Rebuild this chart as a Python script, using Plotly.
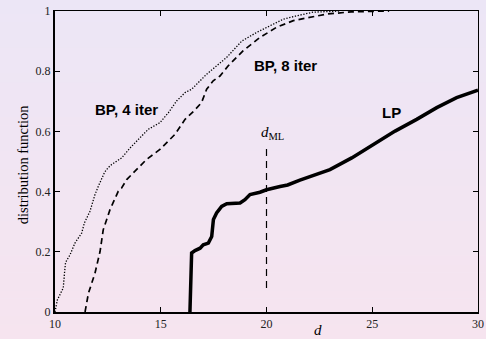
import plotly.graph_objects as go

# ---- data ----
bp4_x = [10.0, 10.05, 10.11, 10.25, 10.39, 10.45, 10.5, 10.71, 10.95, 11.26, 11.39, 11.65, 11.89,
         12.05, 12.2, 12.35, 12.52, 12.68, 13.15, 13.55, 14.02, 14.41, 14.96, 15.36, 15.75, 16.15,
         16.46, 17.17, 18.12, 18.83, 19.54, 20.0, 20.8, 21.43, 22.2, 23.5]
bp4_y = [0.0, 0.02, 0.04, 0.06, 0.08, 0.13, 0.165, 0.19, 0.23, 0.262, 0.296, 0.334, 0.39,
         0.418, 0.44, 0.465, 0.48, 0.49, 0.512, 0.545, 0.579, 0.607, 0.629, 0.662, 0.701, 0.729,
         0.74, 0.79, 0.846, 0.9, 0.929, 0.946, 0.973, 0.984, 0.996, 1.0]

bp8_x = [11.42, 11.5, 11.58, 11.89, 12.13, 12.28, 12.6, 12.99, 13.15, 13.39, 13.7, 14.33, 14.96,
         15.67, 16.15, 16.6, 16.93, 17.17, 17.48, 17.8, 18.19, 18.5, 18.9, 19.69, 20.48, 21.27,
         22.06, 22.85, 24.0, 25.8]
bp8_y = [0.0, 0.03, 0.062, 0.129, 0.201, 0.273, 0.34, 0.401, 0.412, 0.44, 0.462, 0.507, 0.54,
         0.59, 0.64, 0.67, 0.696, 0.74, 0.768, 0.784, 0.818, 0.84, 0.868, 0.912, 0.946, 0.968,
         0.979, 0.99, 0.997, 1.0]

lp_x = [16.38, 16.4, 16.44, 16.46, 16.62, 16.86, 17.01, 17.25, 17.41, 17.49, 17.64, 17.88, 18.12,
        18.75, 18.98, 19.22, 19.69, 20.0, 20.64, 21.0, 21.58, 22.0, 23.0, 24.03, 25.05, 26.08,
        27.1, 28.05, 28.99, 30.0]
lp_y = [0.0, 0.1, 0.18, 0.196, 0.204, 0.212, 0.223, 0.229, 0.251, 0.307, 0.329, 0.351, 0.36,
        0.362, 0.373, 0.39, 0.398, 0.406, 0.417, 0.422, 0.438, 0.448, 0.473, 0.512, 0.557, 0.601,
        0.64, 0.679, 0.712, 0.737]

dml_x = [20.0, 20.0]
dml_y = [0.08, 0.55]

x_ticks = [10, 15, 20, 25, 30]
y_ticks = [0, 0.2, 0.4, 0.6, 0.8, 1]
y_tick_text = ["0", "0.2", "0.4", "0.6", "0.8", "1"]

labels = [("BP, 4 iter", 13.36, 0.673), ("BP, 8 iter", 20.92, 0.818), ("LP", 25.92, 0.662)]

# ---- figure ----
fig = go.Figure()
fig.add_trace(go.Scatter(x=bp4_x, y=bp4_y, mode="lines",
                         line=dict(color="black", width=1.3, dash="1.3px,1.6px")))
fig.add_trace(go.Scatter(x=bp8_x, y=bp8_y, mode="lines",
                         line=dict(color="black", width=1.7, dash="6px,4px")))
fig.add_trace(go.Scatter(x=lp_x, y=lp_y, mode="lines",
                         line=dict(color="black", width=3.5)))
fig.add_trace(go.Scatter(x=dml_x, y=dml_y, mode="lines",
                         line=dict(color="black", width=1.2, dash="7px,5px")))

# gradient background built from horizontal bands
top = (236, 230, 246)
bot = (246, 228, 239)
n = 40
y0p, y1p = -0.1, 1.05
for i in range(n):
    t = i / (n - 1)
    c = tuple(round(bot[k] + (top[k] - bot[k]) * t) for k in range(3))
    ya = y0p + (y1p - y0p) * i / n
    yb = y0p + (y1p - y0p) * (i + 1) / n + 0.002
    fig.add_shape(type="rect", xref="paper", yref="paper", x0=-0.2, x1=1.1, y0=ya, y1=yb,
                  fillcolor="rgb(%d,%d,%d)" % c, line=dict(width=0), layer="below")

for txt, xx, yy in labels:
    fig.add_annotation(x=xx, y=yy, text="<b>%s</b>" % txt, showarrow=False,
                       font=dict(family="Liberation Sans, Arial", size=15, color="black"))

fig.add_annotation(x=20.3, y=0.595, text="<i>d</i><sub>ML</sub>", showarrow=False,
                   font=dict(family="Liberation Serif, Times New Roman", size=15, color="black"))
fig.add_annotation(xref="paper", yref="paper", x=0.622, y=-0.06, text="<i>d</i>",
                   showarrow=False, yanchor="middle",
                   font=dict(family="Liberation Serif, Times New Roman", size=15, color="black"))
fig.add_annotation(xref="paper", yref="paper", x=-0.1, y=0.49, text="distribution function",
                   textangle=-90, showarrow=False,
                   font=dict(family="Liberation Serif, Times New Roman", size=14.5, color="black"))

serif = dict(family="Liberation Serif, Times New Roman", size=12, color="#222")
fig.update_layout(
    width=486, height=339,
    margin=dict(l=55, r=8, t=11, b=27, autoexpand=False),
    paper_bgcolor="rgb(241,229,243)",
    plot_bgcolor="rgba(0,0,0,0)",
    showlegend=False,
    xaxis=dict(range=[10, 30], tickvals=x_ticks, ticks="inside", ticklen=5, tickwidth=1,
               tickcolor="black", showline=True, linewidth=2, linecolor="black",
               showgrid=False, zeroline=False, tickfont=serif, automargin=False),
    yaxis=dict(range=[0, 1], tickvals=y_ticks, ticktext=y_tick_text, ticks="inside", ticklen=5,
               tickwidth=1, tickcolor="black", showline=True, linewidth=2, linecolor="black",
               showgrid=False, zeroline=False, tickfont=serif, automargin=False),
    xaxis2=dict(range=[10, 30], tickvals=x_ticks, ticks="inside", ticklen=5, tickwidth=1,
                tickcolor="black", showline=True, linewidth=1.3, linecolor="black",
                showgrid=False, zeroline=False, showticklabels=False, overlaying="x",
                side="top", automargin=False),
    yaxis2=dict(range=[0, 1], tickvals=y_ticks, ticks="inside", ticklen=5, tickwidth=1,
                tickcolor="black", showline=True, linewidth=1.3, linecolor="black",
                showgrid=False, zeroline=False, showticklabels=False, overlaying="y",
                side="right", automargin=False),
)
# invisible trace to activate the mirror axes
fig.add_trace(go.Scatter(x=[10], y=[0], xaxis="x2", yaxis="y2", mode="markers",
                         marker=dict(opacity=0), hoverinfo="skip"))

fig.write_html("out.html", config={"displayModeBar": False},
               post_script="document.body.style.margin='0';document.body.style.overflow='hidden';")
